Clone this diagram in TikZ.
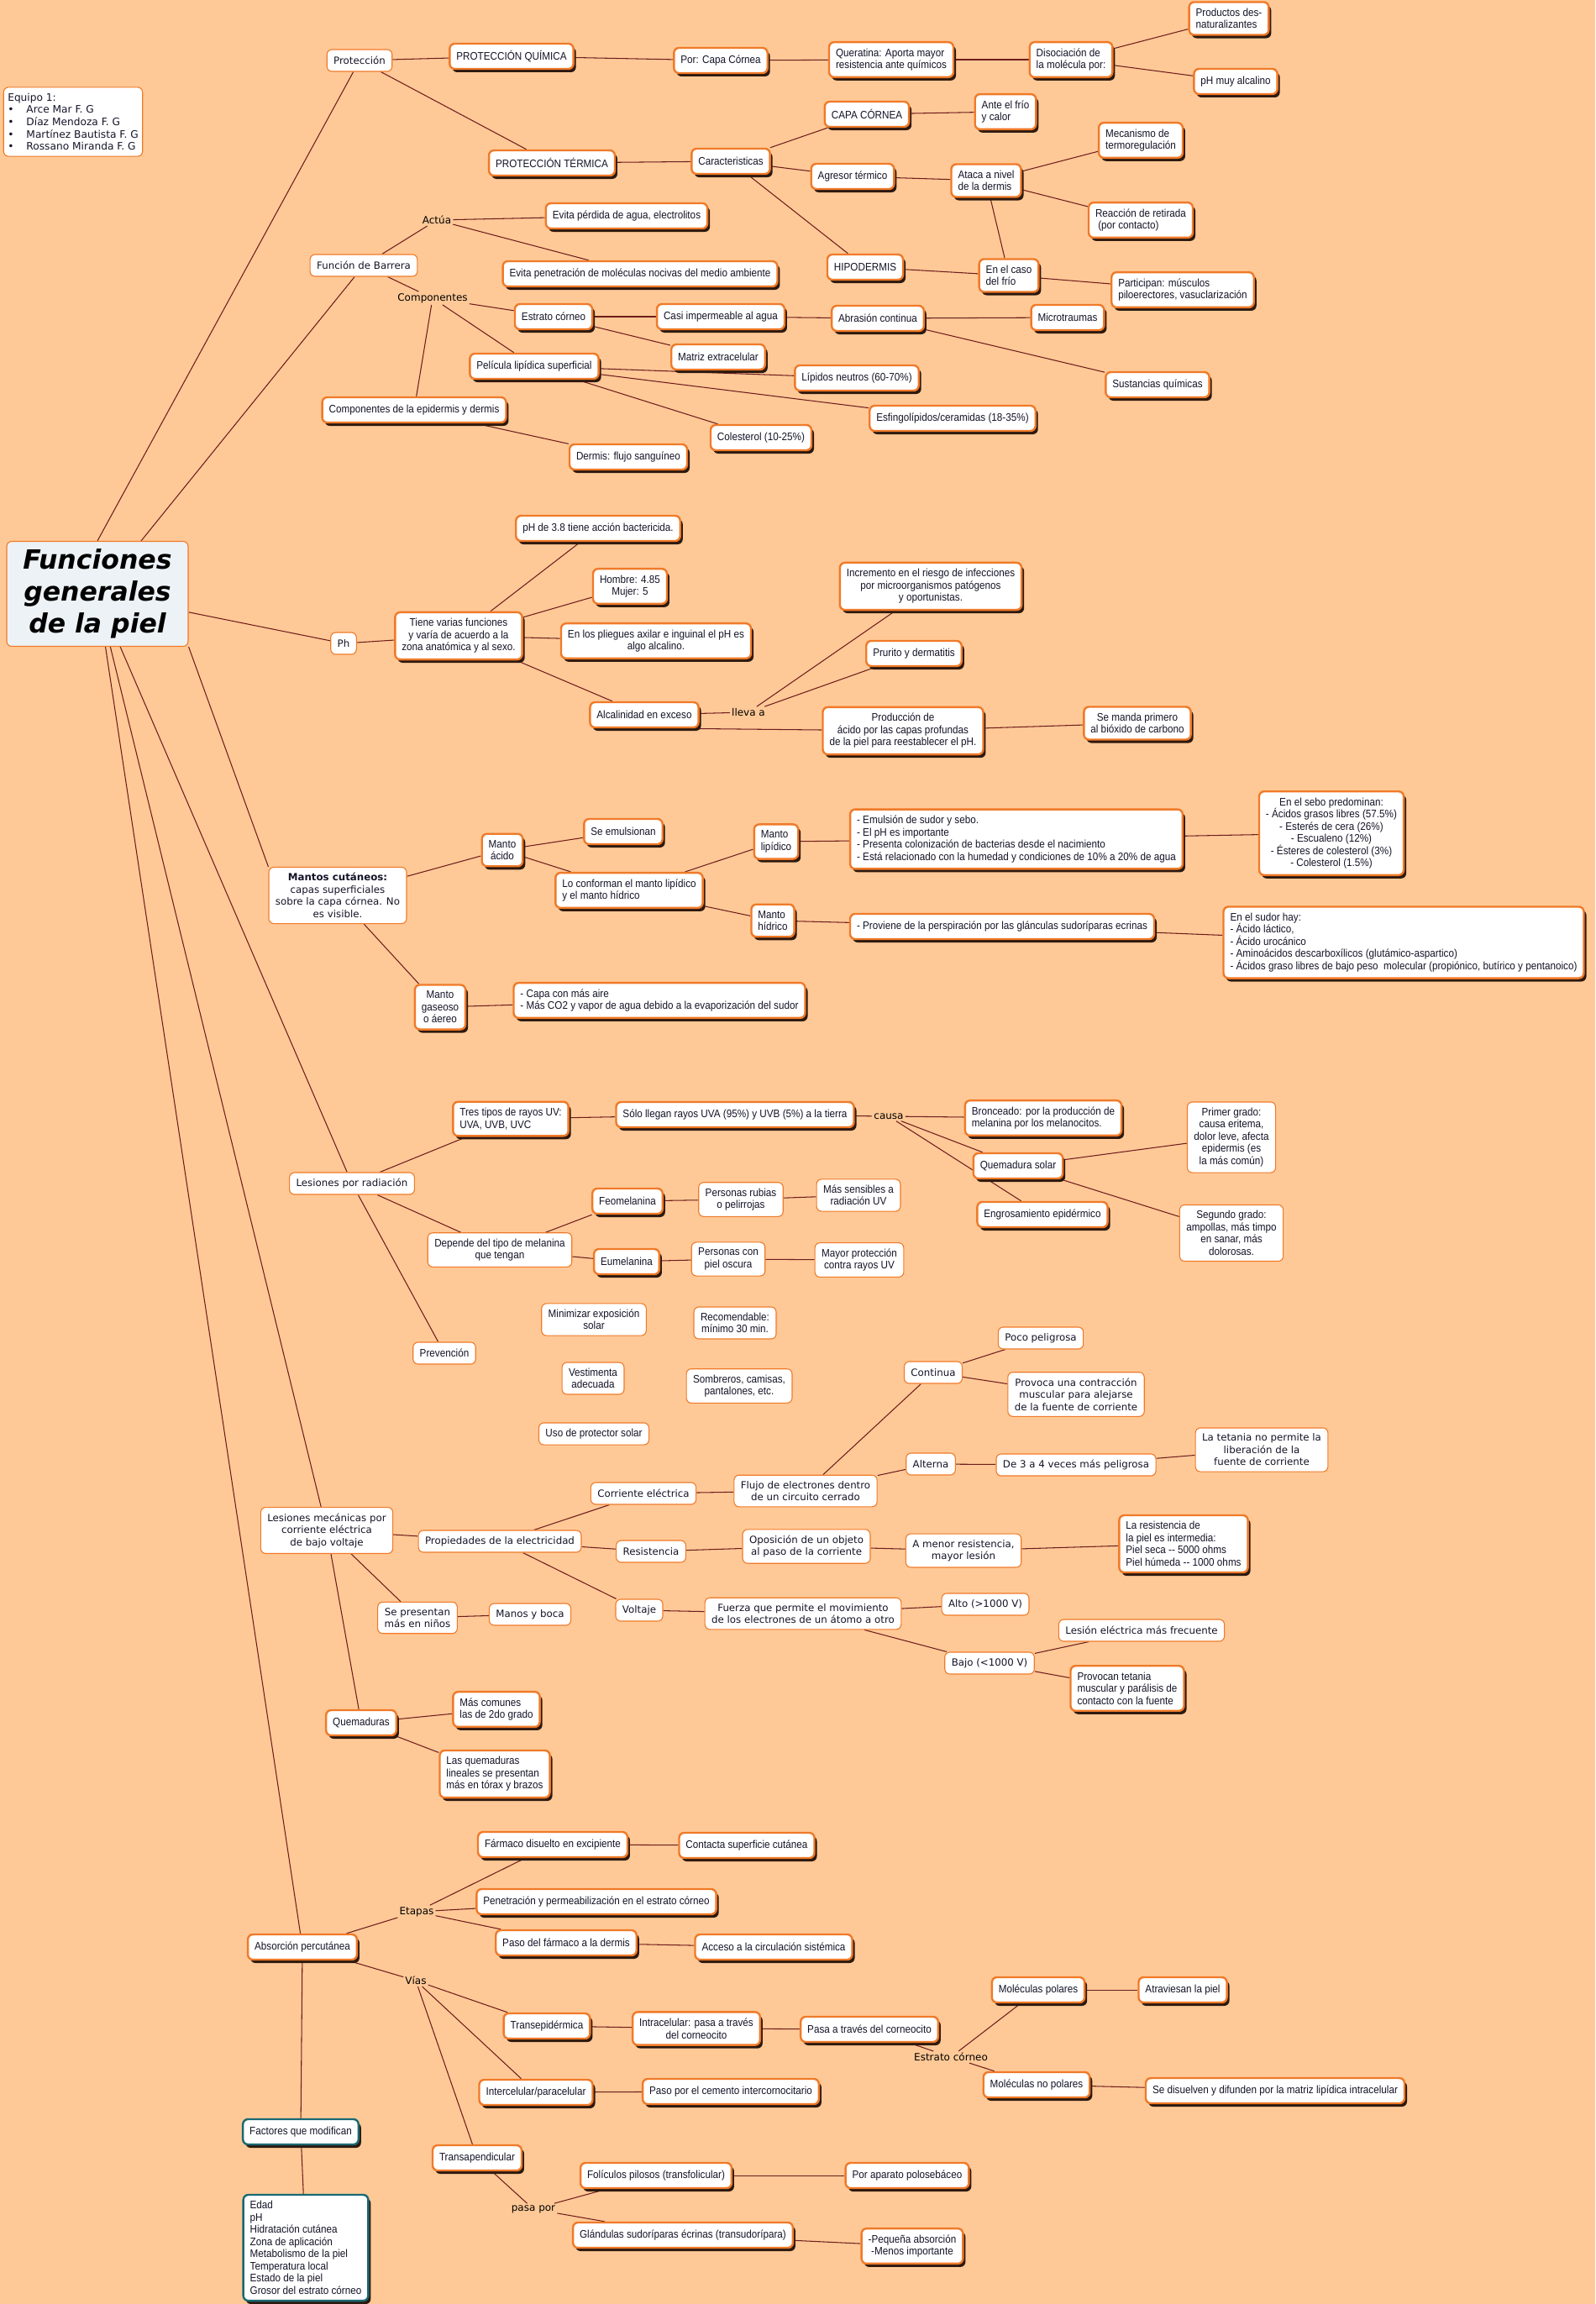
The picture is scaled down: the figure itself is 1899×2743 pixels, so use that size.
\documentclass[tikz,border=0pt]{standalone}
\usepackage{fontspec}
\setmainfont{Liberation Sans}
\newfontfamily\narrowfont[FakeStretch=0.9]{Liberation Sans}
\newfontfamily\verdfont{DejaVu Sans}
\usetikzlibrary{shadows}
\definecolor{peach}{RGB}{255,201,151}
\definecolor{boxedge}{RGB}{240,122,40}
\definecolor{linkc}{RGB}{110,28,28}
\definecolor{shadowc}{RGB}{45,25,15}
\definecolor{tealedge}{RGB}{25,105,115}
\definecolor{titlefill}{RGB}{236,242,245}
\definecolor{textc}{RGB}{20,20,40}
\pgfdeclarelayer{back}
\pgfdeclarelayer{links}
\pgfsetlayers{back,links,main}

\begin{document}
\begin{tikzpicture}[
  x=1pt, y=-1pt,
  every node/.style={text=textc},
  box/.style={draw=boxedge, line width=2.4pt, rounded corners=6pt, fill=white, align=center,
              font=\narrowfont\fontsize{13}{14.5}\selectfont, inner xsep=8pt, inner ysep=7.5pt,
              minimum height=30pt,
              drop shadow={shadow xshift=3pt, shadow yshift=-4pt, fill=shadowc, opacity=1}},
  tealbox/.style={box, draw=tealedge},
  plain/.style={draw=boxedge, line width=1.1pt, rounded corners=6pt, fill=white, align=center,
                font=\verdfont\fontsize{11.8}{14.5}\selectfont, inner xsep=8pt, inner ysep=7pt,
                minimum height=26pt},
  plainn/.style={plain, font=\narrowfont\fontsize{13}{14.5}\selectfont},
  titlebox/.style={draw=boxedge, line width=1.1pt, rounded corners=6pt, fill=titlefill, align=center,
                   font=\verdfont\bfseries\itshape\fontsize{31.5}{38}\selectfont,
                   minimum width=216pt, minimum height=125pt, text=black},
  lbl/.style={font=\verdfont\fontsize{12}{14}\selectfont, inner sep=2pt, text=black},
  link/.style={draw=linkc, line width=1.05pt}
]
\useasboundingbox (0,0) rectangle (1899,2743);
\begin{pgfonlayer}{back}
\fill[peach] (0,0) rectangle (1899,2743);
\end{pgfonlayer}

\node[titlebox, inner xsep=2pt] (title) at (116,707) {Funciones\\generales\\de la piel};
\node[plain, align=left, font=\verdfont\fontsize{12.2}{14.7}\selectfont, inner xsep=5pt] (team) at (87,145)
  {Equipo 1:\\\textbullet\hspace{15pt}Arce Mar F. G\\\textbullet\hspace{15pt}Díaz Mendoza F. G\\\textbullet\hspace{15pt}Martínez Bautista F. G\\\textbullet\hspace{15pt}Rossano Miranda F. G};

% proteccion
\node[plain] (prot) at (428,72) {Protección};
\node[box] (pq) at (609,67) {PROTECCIÓN QUÍMICA};
\node[box] (pcc) at (858,72) {Por: Capa Córnea};
\node[box, align=left] (quer) at (1061,71) {Queratina: Aporta mayor\\resistencia ante químicos};
\node[box, align=left] (disoc) at (1275,71) {Disociación de\\la molécula por:};
\node[box, align=left] (prod) at (1463,22) {Productos des-\\naturalizantes};
\node[box] (phalc) at (1471,97) {pH muy alcalino};
\node[box] (pt) at (657,194) {PROTECCIÓN TÉRMICA};
\node[box] (carac) at (870,192) {Caracteristicas};
\node[box] (capac) at (1032,136) {CAPA CÓRNEA};
\node[box, align=left] (frioc) at (1197,133) {Ante el frío\\y calor};
\node[box] (agres) at (1015,210) {Agresor térmico};
\node[box, align=left] (ataca) at (1174,215) {Ataca a nivel\\de la dermis};
\node[box, align=left] (mecan) at (1358,167) {Mecanismo de\\termoregulación};
\node[box, align=left] (reacc) at (1358,262) {Reacción de retirada\\\ (por contacto)};
\node[box] (hipod) at (1030,318) {HIPODERMIS};
\node[box, align=left] (frio) at (1201,328) {En el caso\\del frío};
\node[box, align=left] (partic) at (1408,345) {Participan: músculos\\piloerectores, vasuclarización};

% barrera
\node[plain] (barr) at (433,316) {Función de Barrera};
\node[lbl] (actua) at (520,262) {Actúa};
\node[lbl] (compl) at (515,355) {Componentes};
\node[box] (evagua) at (746,257) {Evita pérdida de agua, electrolitos};
\node[box] (evpen) at (762,326) {Evita penetración de moléculas nocivas del medio ambiente};
\node[box] (estr) at (659,377) {Estrato córneo};
\node[box] (imper) at (858,377) {Casi impermeable al agua};
\node[box] (abras) at (1045,379) {Abrasión continua};
\node[box] (micro) at (1271,378) {Microtraumas};
\node[box] (sustq) at (1378,458) {Sustancias químicas};
\node[box] (matriz) at (855,425) {Matriz extracelular};
\node[box] (pelic) at (636,436) {Película lipídica superficial};
\node[box] (lipn) at (1020,450) {Lípidos neutros (60-70\%)};
\node[box] (esfin) at (1134,498) {Esfingolípidos/ceramidas (18-35\%)};
\node[box] (coles) at (906,521) {Colesterol (10-25\%)};
\node[box] (compo) at (493,488) {Componentes de la epidermis y dermis};
\node[box] (dermis) at (748,544) {Dermis: flujo sanguíneo};

% ph
\node[plain] (ph) at (409,766) {Ph};
\node[box] (ph38) at (712,629) {pH de 3.8 tiene acción bactericida.};
\node[box] (homb) at (750,698) {Hombre: 4.85\\Mujer: 5};
\node[box] (tiene) at (546,757) {Tiene varias funciones\\y varía de acuerdo a la\\zona anatómica y al sexo.};
\node[box] (plieg) at (781,763) {En los pliegues axilar e inguinal el pH es\\algo alcalino.};
\node[box] (alcal) at (767,851) {Alcalinidad en exceso};
\node[lbl] (lleva) at (891,848) {lleva a};
\node[box] (increm) at (1108,698) {Incremento en el riesgo de infecciones\\por microorganismos patógenos\\y oportunistas.};
\node[box] (prurito) at (1088,778) {Prurito y dermatitis};
\node[box] (produc) at (1075,870) {Producción de\\ácido por las capas profundas\\de la piel para reestablecer el pH.};
\node[box] (manda) at (1354,861) {Se manda primero\\al bióxido de carbono};

% mantos
\node[plain] (mantos) at (402,1066) {\textbf{Mantos cutáneos:}\\capas superficiales\\sobre la capa córnea. No\\es visible.};
\node[box] (macido) at (598,1012) {Manto\\ácido};
\node[box] (emuls) at (742,990) {Se emulsionan};
\node[box, align=left] (confor) at (749,1060) {Lo conforman el manto lipídico\\y el manto hídrico};
\node[box, align=left] (mlipid) at (924,1002) {Manto\\lipídico};
\node[box, align=left] (mhidr) at (920,1096) {Manto\\hídrico};
\node[box, align=left] (emsud) at (1210,999) {- Emulsión de sudor y sebo.\\- El pH es importante\\- Presenta colonización de bacterias desde el nacimiento\\- Está relacionado con la humedad y condiciones de 10\% a 20\% de agua};
\node[box] (sebo) at (1585,992) {En el sebo predominan:\\- Ácidos grasos libres (57.5\%)\\- Esterés de cera (26\%)\\- Escualeno (12\%)\\- Ésteres de colesterol (3\%)\\- Colesterol (1.5\%)};
\node[box] (provi) at (1193,1103) {- Proviene de la perspiración por las glánculas sudoríparas ecrinas};
\node[box, align=left] (sudor) at (1671,1122) {En el sudor hay:\\- Ácido láctico,\\- Ácido urocánico\\- Aminoácidos descarboxílicos (glutámico-aspartico)\\- Ácidos graso libres de bajo peso\ \ molecular (propiónico, butírico y pentanoico)};
\node[box] (mgas) at (524,1199) {Manto\\gaseoso\\o áereo};
\node[box, align=left] (aire) at (785,1191) {- Capa con más aire\\- Más CO2 y vapor de agua debido a la evaporización del sudor};

% radiacion
\node[plain] (lrad) at (419,1409) {Lesiones por radiación};
\node[box, align=left] (rayos) at (608,1332) {Tres tipos de rayos UV:\\UVA, UVB, UVC};
\node[box] (llegan) at (875,1327) {Sólo llegan rayos UVA (95\%) y UVB (5\%) a la tierra};
\node[lbl] (causa) at (1058,1329) {causa};
\node[box, align=left] (bronc) at (1242,1331) {Bronceado: por la producción de\\melanina por los melanocitos.};
\node[box] (qsolar) at (1212,1388) {Quemadura solar};
\node[box] (engros) at (1241,1446) {Engrosamiento epidérmico};
\node[plainn] (primer) at (1466,1354) {Primer grado:\\causa eritema,\\dolor leve, afecta\\epidermis (es\\la más común)};
\node[plainn] (segundo) at (1466,1468) {Segundo grado:\\ampollas, más timpo\\en sanar, más\\dolorosas.};
\node[plainn] (depende) at (595,1488) {Depende del tipo de melanina\\que tengan};
\node[box] (feom) at (747,1430) {Feomelanina};
\node[box] (eum) at (746,1502) {Eumelanina};
\node[plainn] (rubias) at (882,1428) {Personas rubias\\o pelirrojas};
\node[plainn] (sensib) at (1022,1423) {Más sensibles a\\radiación UV};
\node[plainn] (oscura) at (867,1499) {Personas con\\piel oscura};
\node[plainn] (mayor) at (1023,1500) {Mayor protección\\contra rayos UV};
\node[plainn] (prev) at (529,1611) {Prevención};
\node[plainn] (minim) at (707,1571) {Minimizar exposición\\solar};
\node[plainn] (recom) at (875,1575) {Recomendable:\\mínimo 30 min.};
\node[plainn] (vesti) at (706,1641) {Vestimenta\\adecuada};
\node[plainn] (sombr) at (880,1650) {Sombreros, camisas,\\pantalones, etc.};
\node[plainn] (usopro) at (707,1707) {Uso de protector solar};

% electricidad
\node[plain] (lmec) at (389,1822) {Lesiones mecánicas por\\corriente eléctrica\\de bajo voltaje};
\node[plain] (propi) at (595,1835) {Propiedades de la electricidad};
\node[plain] (corr) at (766,1778) {Corriente eléctrica};
\node[plain] (flujo) at (959,1775) {Flujo de electrones dentro\\de un circuito cerrado};
\node[plain] (contin) at (1111,1634) {Continua};
\node[plain] (poco) at (1239,1593) {Poco peligrosa};
\node[plain] (provoca) at (1281,1660) {Provoca una contracción\\muscular para alejarse\\de la fuente de corriente};
\node[plain] (altern) at (1108,1743) {Alterna};
\node[plain] (veces) at (1281,1744) {De 3 a 4 veces más peligrosa};
\node[plain] (tetania) at (1502,1726) {La tetania no permite la\\liberación de la\\fuente de corriente};
\node[plain] (resis) at (775,1847) {Resistencia};
\node[plain] (oposic) at (960,1841) {Oposición de un objeto\\al paso de la corriente};
\node[plain] (menor) at (1147,1846) {A menor resistencia,\\mayor lesión};
\node[box, align=left] (rpiel) at (1409,1838) {La resistencia de\\la piel es intermedia:\\Piel seca -- 5000 ohms\\Piel húmeda -- 1000 ohms};
\node[plain] (volt) at (761,1917) {Voltaje};
\node[plain] (fuerza) at (956,1921) {Fuerza que permite el movimiento\\de los electrones de un átomo a otro};
\node[plain] (alto) at (1173,1910) {Alto (>1000 V)};
\node[plain] (bajo) at (1178,1980) {Bajo (<1000 V)};
\node[plain] (lesfrec) at (1359,1941) {Lesión eléctrica más frecuente};
\node[box, align=left] (tetan) at (1342,2010) {Provocan tetania\\muscular y parálisis de\\contacto con la fuente};
\node[plain] (ninos) at (497,1926) {Se presentan\\más en niños};
\node[plain] (manos) at (631,1922) {Manos y boca};
\node[box] (quem) at (430,2051) {Quemaduras};
\node[box, align=left] (comunes) at (591,2035) {Más comunes\\las de 2do grado};
\node[box, align=left] (lineal) at (589,2112) {Las quemaduras\\lineales se presentan\\más en tórax y brazos};

% absorcion
\node[box] (absor) at (360,2318) {Absorción percutánea};
\node[lbl] (etapas) at (496,2276) {Etapas};
\node[lbl] (vias) at (495,2358) {Vías};
\node[box] (farm) at (658,2196) {Fármaco disuelto en excipiente};
\node[box] (contac) at (889,2197) {Contacta superficie cutánea};
\node[box] (penet) at (710,2264) {Penetración y permeabilización en el estrato córneo};
\node[box] (pasof) at (674,2313) {Paso del fármaco a la dermis};
\node[box] (acceso) at (921,2318) {Acceso a la circulación sistémica};
\node[box] (transep) at (651,2412) {Transepidérmica};
\node[box] (intrac) at (829,2415) {Intracelular: pasa a través\\del corneocito};
\node[box] (pasa) at (1035,2416) {Pasa a través del corneocito};
\node[lbl] (estrl) at (1132,2449) {Estrato córneo};
\node[box] (mpol) at (1236,2369) {Moléculas polares};
\node[box] (atrav) at (1408,2369) {Atraviesan la piel};
\node[box] (mnopol) at (1234,2482) {Moléculas no polares};
\node[box] (disuel) at (1518,2489) {Se disuelven y difunden por la matriz lipídica intracelular};
\node[box] (interc) at (638,2491) {Intercelular/paracelular};
\node[box] (cemento) at (870,2490) {Paso por el cemento intercornocitario};
\node[box] (transap) at (568,2569) {Transapendicular};
\node[lbl] (pasapor) at (635,2630) {pasa por};
\node[box] (folic) at (781,2590) {Folículos pilosos (transfolicular)};
\node[box] (polos) at (1080,2590) {Por aparato polosebáceo};
\node[box] (gland) at (813,2661) {Glándulas sudoríparas écrinas (transudorípara)};
\node[box] (peque) at (1086,2674) {-Pequeña absorción\\-Menos importante};
\node[tealbox] (factor) at (358,2538) {Factores que modifican};
\node[tealbox, align=left] (edad) at (364,2676) {Edad\\pH\\Hidratación cutánea\\Zona de aplicación\\Metabolismo de la piel\\Temperatura local\\Estado de la piel\\Grosor del estrato córneo};

\begin{pgfonlayer}{links}
\draw[link] (title.north) -- (prot);
\draw[link] ([xshift=52pt]title.north) -- (barr);
\draw[link] (title) -- (ph);
\draw[link] (title.south east) -- (mantos.north west);
\draw[link] (title) -- (lrad);
\draw[link] (title) -- (lmec);
\draw[link] (title) -- (absor);

\draw[link] (prot) -- (pq);
\draw[link] (prot) -- (pt);
\draw[link] (pq) -- (pcc);
\draw[link] (pcc) -- (quer);
\draw[link] (quer) -- (disoc);
\draw[link] (disoc) -- (prod);
\draw[link] (disoc) -- (phalc);
\draw[link] (pt) -- (carac);
\draw[link] (carac) -- (capac);
\draw[link] (carac) -- (agres);
\draw[link] (carac) -- (hipod);
\draw[link] (capac) -- (frioc);
\draw[link] (agres) -- (ataca);
\draw[link] (ataca) -- (mecan);
\draw[link] (ataca) -- (reacc);
\draw[link] (ataca) -- (frio);
\draw[link] (hipod) -- (frio);
\draw[link] (frio) -- (partic);

\draw[link] (barr) -- (actua);
\draw[link] (actua) -- (evagua);
\draw[link] (actua) -- (evpen);
\draw[link] (barr) -- (compl);
\draw[link] (compl) -- (estr);
\draw[link] (compl) -- (pelic);
\draw[link] (compl) -- (compo);
\draw[link] (estr) -- (imper);
\draw[link] (imper) -- (abras);
\draw[link] (abras) -- (micro);
\draw[link] (abras) -- (sustq);
\draw[link] (estr) -- (matriz);
\draw[link] (pelic) -- (lipn);
\draw[link] (pelic) -- (esfin);
\draw[link] (pelic) -- (coles);
\draw[link] (compo) -- (dermis);

\draw[link] (ph) -- (tiene);
\draw[link] (tiene) -- (ph38);
\draw[link] (tiene) -- (homb);
\draw[link] (tiene) -- (plieg);
\draw[link] (tiene) -- (alcal);
\draw[link] (alcal) -- (lleva);
\draw[link] (lleva) -- (increm);
\draw[link] (lleva) -- (prurito);
\draw[link] ([xshift=-30pt]alcal.south east) -- (produc);
\draw[link] (produc) -- (manda);

\draw[link] (mantos) -- (macido);
\draw[link] (mantos) -- (mgas);
\draw[link] (macido) -- (emuls);
\draw[link] (macido) -- (confor);
\draw[link] (confor) -- (mlipid);
\draw[link] (confor) -- (mhidr);
\draw[link] (mlipid) -- (emsud);
\draw[link] (emsud) -- (sebo);
\draw[link] (mhidr) -- (provi);
\draw[link] (provi) -- (sudor);
\draw[link] (mgas) -- (aire);

\draw[link] (lrad) -- (rayos);
\draw[link] (lrad) -- (depende);
\draw[link] (lrad) -- (prev);
\draw[link] (rayos) -- (llegan);
\draw[link] (llegan) -- (causa);
\draw[link] (causa) -- (bronc);
\draw[link] (causa) -- (qsolar);
\draw[link] (causa) -- (engros);
\draw[link] (qsolar) -- (primer);
\draw[link] (qsolar) -- (segundo);
\draw[link] (depende) -- (feom);
\draw[link] (depende) -- (eum);
\draw[link] (feom) -- (rubias);
\draw[link] (rubias) -- (sensib);
\draw[link] (eum) -- (oscura);
\draw[link] (oscura) -- (mayor);

\draw[link] (lmec) -- (propi);
\draw[link] (lmec) -- (ninos);
\draw[link] (lmec) -- (quem);
\draw[link] (propi) -- (corr);
\draw[link] (propi) -- (resis);
\draw[link] (propi) -- (volt);
\draw[link] (corr) -- (flujo);
\draw[link] (flujo) -- (contin);
\draw[link] (flujo) -- (altern);
\draw[link] (contin) -- (poco);
\draw[link] (contin) -- (provoca);
\draw[link] (altern) -- (veces);
\draw[link] (veces) -- (tetania);
\draw[link] (resis) -- (oposic);
\draw[link] (oposic) -- (menor);
\draw[link] (menor) -- (rpiel);
\draw[link] (volt) -- (fuerza);
\draw[link] (fuerza) -- (alto);
\draw[link] (fuerza) -- (bajo);
\draw[link] (bajo) -- (lesfrec);
\draw[link] (bajo) -- (tetan);
\draw[link] (ninos) -- (manos);
\draw[link] (quem) -- (comunes);
\draw[link] (quem) -- (lineal);

\draw[link] (absor) -- (etapas);
\draw[link] (etapas) -- (farm);
\draw[link] (etapas) -- (penet);
\draw[link] (etapas) -- (pasof);
\draw[link] (farm) -- (contac);
\draw[link] (pasof) -- (acceso);
\draw[link] (absor) -- (vias);
\draw[link] (vias) -- (transep);
\draw[link] (vias) -- (interc);
\draw[link] (vias) -- (transap);
\draw[link] (transep) -- (intrac);
\draw[link] (intrac) -- (pasa);
\draw[link] (pasa) -- (estrl);
\draw[link] (estrl) -- (mpol);
\draw[link] (estrl) -- (mnopol);
\draw[link] (mpol) -- (atrav);
\draw[link] (mnopol) -- (disuel);
\draw[link] (interc) -- (cemento);
\draw[link] (transap) -- (pasapor);
\draw[link] (pasapor) -- (folic);
\draw[link] (pasapor) -- (gland);
\draw[link] (folic) -- (polos);
\draw[link] (gland) -- (peque);
\draw[link] (absor) -- (factor);
\draw[link] (factor) -- (edad);
\end{pgfonlayer}
\end{tikzpicture}
\end{document}
